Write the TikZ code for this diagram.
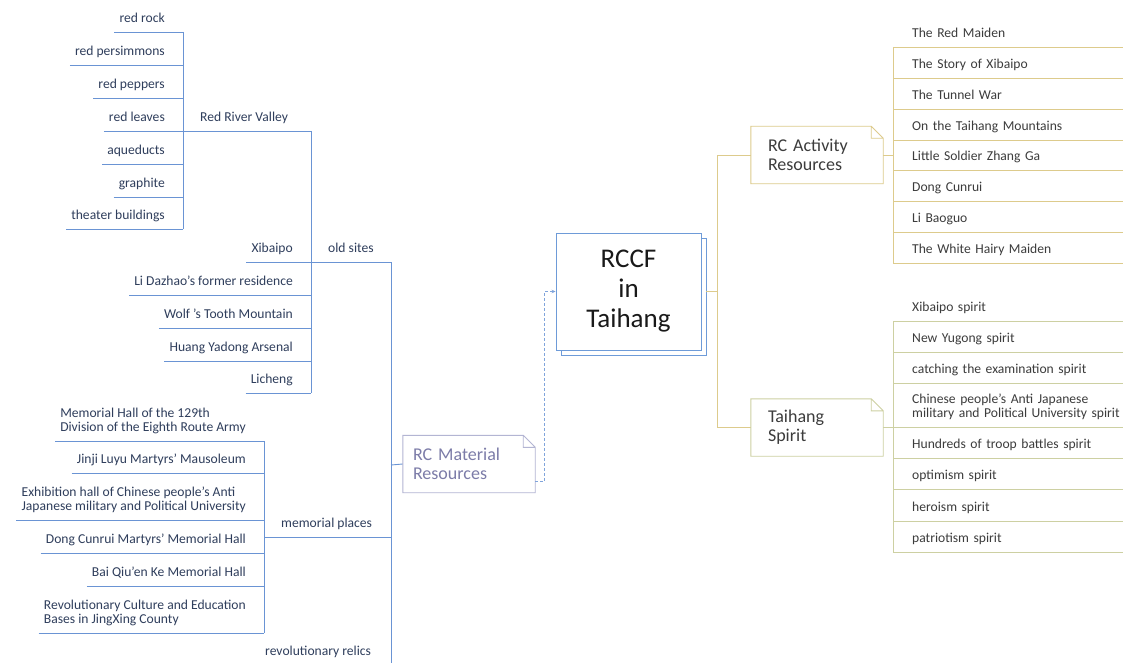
\documentclass[tikz,border=0pt]{standalone}
\usepackage{fontspec}
\setmainfont{Carlito}
\usetikzlibrary{arrows.meta,shadows}
\definecolor{blueln}{HTML}{6A94D4}
\definecolor{bluetx}{HTML}{2F3E5C}
\definecolor{goldln}{HTML}{DDCB8C}
\definecolor{oliveln}{HTML}{CDD0A2}
\definecolor{greytx}{HTML}{3C3C3C}
\definecolor{matln}{HTML}{B3B5D3}
\definecolor{mattx}{HTML}{7C7CA8}
\definecolor{centln}{HTML}{6E9BD8}
\tikzset{
  lnode/.style={anchor=south east, inner xsep=5pt, inner ysep=0pt, text depth=9pt, align=left, text=bluetx, font=\fontsize{13.6}{14}\selectfont},
  gnode/.style={anchor=south west, inner xsep=17pt, inner ysep=0pt, text depth=9pt, text=bluetx, font=\fontsize{13.6}{14}\selectfont},
  rnode/.style={anchor=south west, inner xsep=19pt, inner ysep=0pt, text depth=9pt, text width=215pt, align=left, text=greytx, font=\fontsize{13.6}{14}\selectfont},
  twol/.style={text depth=23pt},
  notebox/.style={minimum width=132pt, minimum height=57pt, inner xsep=0pt, align=left, font=\fontsize{18}{19}\selectfont},
  bl/.style={blueln, line width=0.9pt},
  gl/.style={goldln, line width=0.9pt},
  ol/.style={oliveln, line width=0.9pt},
  dline/.style={blueln!85, line width=0.8pt, dash pattern=on 3pt off 2pt, -{Stealth[length=4pt,width=3.5pt]}}
}
\begin{document}
\begin{tikzpicture}[x=1pt,y=-1pt]
\useasboundingbox[fill=white] (0,0) rectangle (1123,663);

% centre
\node[draw=centln, line width=0.9pt, fill=white, copy shadow={shadow xshift=5pt, shadow yshift=-5pt, draw=centln, fill=white}, minimum width=145pt, minimum height=117pt, align=center, text=black!90, font=\fontsize{27}{30}\selectfont] (1) at (628.5,291.5) {RCCF\\in\\Taihang};

% left: material resources
\node[gnode] (10) at (183,131) {Red River Valley};
\node[lnode] (11) at (170,32) {red rock};
\node[lnode] (12) at (170,65) {red persimmons};
\node[lnode] (13) at (170,98) {red peppers};
\node[lnode] (14) at (170,131) {red leaves};
\node[lnode] (15) at (170,164) {aqueducts};
\node[lnode] (16) at (170,197) {graphite};
\node[lnode] (17) at (170,229) {theater buildings};

\node[gnode] (20) at (311,262) {old sites};
\node[lnode] (21) at (298,262) {Xibaipo};
\node[lnode] (22) at (298,295) {Li Dazhao's former residence};
\node[lnode] (23) at (298,328) {Wolf 's Tooth Mountain};
\node[lnode] (24) at (298,361) {Huang Yadong Arsenal};
\node[lnode] (25) at (298,393) {Licheng};

\node[gnode] (30) at (264,537) {memorial places};
\node[lnode] (31) at (251,441) {Memorial Hall of the 129th\\Division of the Eighth Route Army};
\node[lnode] (32) at (251,473) {Jinji Luyu Martyrs' Mausoleum};
\node[lnode] (33) at (251,520) {Exhibition hall of Chinese people's Anti\\Japanese military and Political University};
\node[lnode] (34) at (251,553) {Dong Cunrui Martyrs' Memorial Hall};
\node[lnode] (35) at (251,586) {Bai Qiu'en Ke Memorial Hall};
\node[lnode] (36) at (251,633) {Revolutionary Culture and Education\\Bases in JingXing County};

\node[gnode] (40) at (248,665) {revolutionary relics};
\coordinate (49) at (391,465);
\node[notebox, text width=112pt, text=mattx] (50) at (469,464) {RC Material\\Resources};

\foreach \i in {11,...,17} \draw[bl] (\i.south west) -- (\i.south west -| 10.south west);
\draw[bl] (11.south west -| 10.south west) -- (17.south west -| 10.south west);
\draw[bl] (10.south west) -- (10.south west -| 20.south west);
\foreach \i in {21,...,25} \draw[bl] (\i.south west) -- (\i.south west -| 20.south west);
\draw[bl] (10.south west -| 20.south west) -- (25.south west -| 20.south west);
\foreach \i in {31,...,36} \draw[bl] (\i.south west) -- (\i.south west -| 30.south west);
\draw[bl] (31.south west -| 30.south west) -- (36.south west -| 30.south west);
\foreach \i in {20,30,40} \draw[bl] (\i.south west) -- (\i.south west -| 49);
\draw[bl] (20.south west -| 49) -- (40.south west -| 49);
\draw[bl] (49) -- (50.west);

% right: activity resources and spirit
\coordinate (59) at (717,291.5);
\node[notebox, text width=98pt, text=greytx] (60) at (817,155) {RC Activity\\Resources};
\node[rnode] (61) at (893,47) {The Red Maiden};
\node[rnode] (62) at (893,78) {The Story of Xibaipo};
\node[rnode] (63) at (893,109) {The Tunnel War};
\node[rnode] (64) at (893,140) {On the Taihang Mountains};
\node[rnode] (65) at (893,170) {Little Soldier Zhang Ga};
\node[rnode] (66) at (893,201) {Dong Cunrui};
\node[rnode] (67) at (893,232) {Li Baoguo};
\node[rnode] (68) at (893,263) {The White Hairy Maiden};

\node[notebox, text width=98pt, text=greytx] (70) at (817,427.5) {Taihang\\Spirit};
\node[rnode] (71) at (893,321) {Xibaipo spirit};
\node[rnode] (72) at (893,352) {New Yugong spirit};
\node[rnode] (73) at (893,383) {catching the examination spirit};
\node[rnode, twol] (74) at (893,427) {Chinese people's Anti Japanese\\military and Political University spirit};
\node[rnode] (75) at (893,458) {Hundreds of troop battles spirit};
\node[rnode] (76) at (893,489) {optimism spirit};
\node[rnode] (77) at (893,521) {heroism spirit};
\node[rnode] (78) at (893,552) {patriotism spirit};

\draw[gl] ([xshift=5pt]1.east) -- (59);
\draw[gl] (60.west) -| (59) |- (70.west);
\draw[gl] (60.east) -- (60.east -| 61.south west);
\draw[gl] (61.south west) -- (68.south west);
\foreach \i in {61,...,68} \draw[gl] (\i.south west) -- (\i.south east);
\draw[ol] (70.east) -- (70.east -| 71.south west);
\draw[ol] (71.south west) -- (78.south west);
\foreach \i in {71,...,78} \draw[ol] (\i.south west) -- (\i.south east);

% folded corners
\foreach \n/\col in {50/matln, 60/goldln, 70/oliveln}
  \draw[\col, line width=0.9pt] (\n.south west) -- (\n.north west) -- ([xshift=-12pt]\n.north east) -- ([yshift=-12pt]\n.north east) -- (\n.south east) -- cycle ([xshift=-12pt]\n.north east) |- ([yshift=-12pt]\n.north east);

\draw[dline] ([yshift=11pt]50.south east) -- ++(9,0) |- (1.west);
\end{tikzpicture}
\end{document}
